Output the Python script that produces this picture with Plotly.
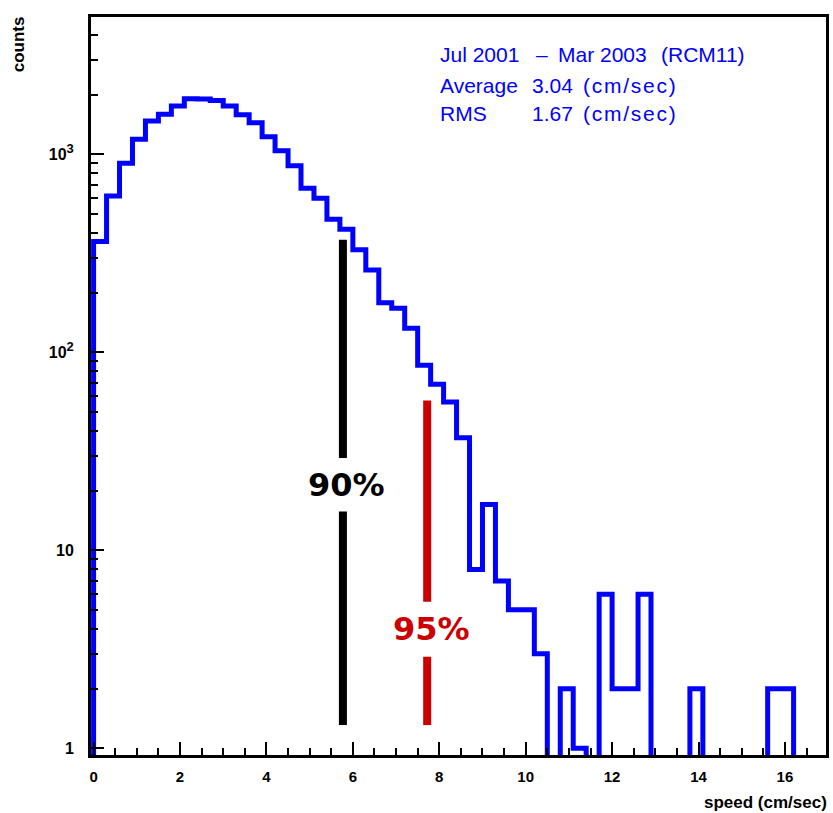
import numpy as np
import plotly.graph_objects as go

# ---------------- data ----------------
bin_width = 0.3
counts = [362, 616, 901, 1191, 1473, 1592, 1754, 1905, 1900, 1866,
          1754, 1582, 1444, 1227, 1040, 875, 673, 600, 470, 418,
          329, 260, 178, 167, 132, 86, 69, 56, 37, 8,
          17, 7, 5, 5, 3, 0, 2, 1, 0, 6,
          2, 2, 6, 0, 0, 0, 2, 0, 0, 0,
          0, 0, 2, 2]

marker_x = [5.77, 7.72]
marker_top = [370, 57]
marker_bottom = [1.31, 1.31]
marker_gap_hi = [29.2, 5.5]
marker_gap_lo = [15.7, 2.9]
marker_labels = ["90%", "95%"]
marker_colors = ["#000000", "#cc0000"]

stat_title_parts = ["Jul 2001", "\u2013", "Mar 2003", "(RCM11)"]
stat_names = ["Average", "RMS"]
stat_values = ["3.04", "1.67"]
stat_unit = "(cm/sec)"

x_ticks = [0, 2, 4, 6, 8, 10, 12, 14, 16]
y_ticks = [1, 10, 100, 1000]
y_ticktext = ["1", "10",
              "10<sup><span style='font-size:13px'>2</span></sup>",
              "10<sup><span style='font-size:13px'>3</span></sup>"]

# ---------------- layout geometry ----------------
W, H = 833, 813
L, R, T, B = 91, 4, 17, 58
pw, ph = W - L - R, H - T - B


def px2paper_x(px):
    return (px - L) / pw


def px2paper_y(py):
    return 1 - (py - T) / ph


floor_val = 0.5  # below axis minimum: zero bins drop to the frame
n = len(counts)
edges = [round(i * bin_width, 4) for i in range(n + 1)]
vals = [c if c > 0 else floor_val for c in counts]
xs = [edges[0]] + edges[:-1] + [edges[-1], edges[-1]]
ys = [floor_val] + vals + [vals[-1], floor_val]

fig = go.Figure()
fig.add_trace(go.Scatter(
    x=xs, y=ys, mode="lines", line=dict(color="#0000ff", width=5, shape="hv"),
    hoverinfo="skip", showlegend=False))

for mx, top, bot, ghi, glo, lab, col in zip(marker_x, marker_top, marker_bottom,
                                             marker_gap_hi, marker_gap_lo,
                                             marker_labels, marker_colors):
    fig.add_trace(go.Scatter(x=[mx, mx, None, mx, mx], y=[bot, glo, None, ghi, top],
                             mode="lines", line=dict(color=col, width=8),
                             hoverinfo="skip", showlegend=False))
    fig.add_annotation(x=mx, y=np.log10(np.sqrt(ghi * glo)), xref="x", yref="y",
                       text=lab, showarrow=False, xshift=4,
                       font=dict(family="DejaVu Sans", size=32, color=col, weight="bold"),
                       xanchor="center", yanchor="middle")

stat_font = dict(family="Liberation Sans", size=21, color="#0000ff")


def stat_text(txt, px, py):
    fig.add_annotation(x=px2paper_x(px), y=px2paper_y(py), xref="paper", yref="paper",
                       text=txt, showarrow=False, xanchor="left", yanchor="middle",
                       font=stat_font, borderpad=0)


def spaced(s):
    return "\u200a".join(s)


row_y = [54, 85, 113]
for txt, px in zip(stat_title_parts, [440, 537, 559, 662]):
    stat_text(txt, px, row_y[0])
for i, (nm, v) in enumerate(zip(stat_names, stat_values)):
    stat_text(nm, 440, row_y[i + 1])
    stat_text(v, 533, row_y[i + 1])
    stat_text(spaced(stat_unit), 584, row_y[i + 1])

title_font = dict(family="Liberation Sans", size=17, color="black", weight="bold")
fig.add_annotation(x=px2paper_x(18), y=px2paper_y(44), xref="paper", yref="paper",
                   text="counts", textangle=-90, showarrow=False,
                   xanchor="center", yanchor="middle", font=title_font)
fig.add_annotation(x=px2paper_x(831), y=px2paper_y(802), xref="paper", yref="paper",
                   text="speed (cm/sec)", showarrow=False, borderpad=0,
                   xanchor="right", yanchor="middle", font=title_font)

fig.update_xaxes(
    range=[-0.06, 16.95], tickmode="array", tickvals=x_ticks,
    ticks="inside", ticklen=13, tickwidth=2, tickcolor="black",
    minor=dict(ticks="inside", ticklen=7, tickwidth=2, tickcolor="black", dtick=0.5,
               tick0=0, showgrid=False),
    showline=True, linewidth=3, linecolor="black", mirror=True,
    showgrid=False, zeroline=False,
    tickfont=dict(family="Liberation Sans", size=15, color="black", weight="bold"),
    ticklabelstandoff=6)

y_minor = [d * 10 ** e for e in range(0, 4) for d in range(2, 10)]
fig.update_yaxes(
    type="log", range=[-0.034, 3.693], tickmode="array", tickvals=y_ticks,
    ticktext=y_ticktext,
    ticks="inside", ticklen=13, tickwidth=2, tickcolor="black",
    minor=dict(ticks="inside", ticklen=7, tickwidth=2, tickcolor="black",
               tickmode="array", tickvals=y_minor, showgrid=False),
    showline=True, linewidth=3, linecolor="black", mirror=True,
    showgrid=False, zeroline=False,
    tickfont=dict(family="Liberation Sans", size=16, color="black", weight="bold"),
    ticklabelstandoff=11)

fig.update_layout(
    width=W, height=H, margin=dict(l=L, r=R, t=T, b=B),
    paper_bgcolor="white", plot_bgcolor="white", showlegend=False)

fig.write_html("out.html", config={"displayModeBar": False},
               post_script="document.body.style.margin='0';document.body.style.overflow='hidden';")
